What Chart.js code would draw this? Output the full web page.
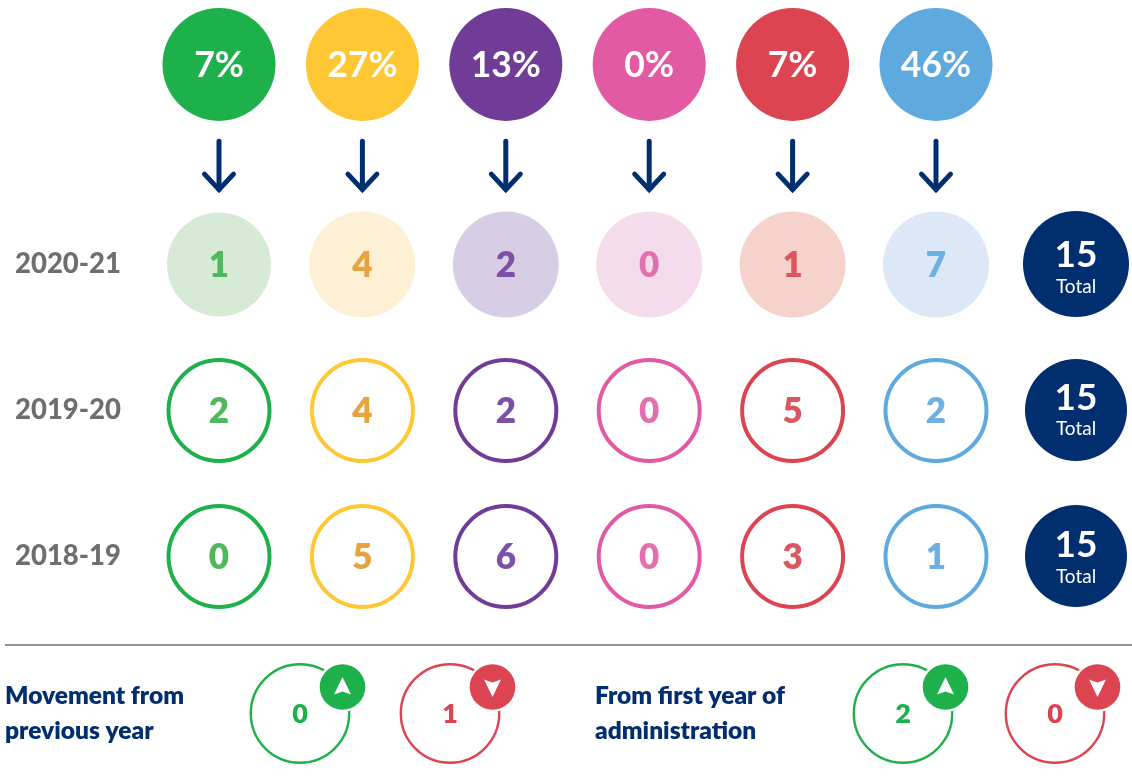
<!DOCTYPE html>
<html><head><meta charset="utf-8">
<script src="https://cdn.jsdelivr.net/npm/chart.js@4/dist/chart.umd.min.js"></script>
<style>
html,body{margin:0;padding:0;background:#fff;overflow:hidden}
#wrap{position:relative;width:1132px;height:784px}
canvas{position:absolute;left:0}
</style></head><body><div id="wrap">
<canvas id="share" width="1132" height="214" style="top:0"></canvas>
<canvas id="matrix" width="1132" height="630" style="top:0"></canvas>
<canvas id="totals" width="1132" height="629" style="top:0"></canvas>
<canvas id="movePrev" width="1132" height="144" style="top:640px"></canvas>
<canvas id="moveFirst" width="1132" height="144" style="top:640px"></canvas>
</div>
<script>
// ---- data ----
const categories = ['Category 1','Category 2','Category 3','Category 4','Category 5','Category 6'];
const years = ['2020-21','2019-20','2018-19'];
const sharePct = [7,27,13,0,7,46];
const values2020 = [1,4,2,0,1,7];
const values2019 = [2,4,2,0,5,2];
const values2018 = [0,5,6,0,3,1];
const totals = [15,15,15];
const totalLabel = 'Total';
const directions = ['Up','Down'];
const movementPrevious = [0,1];
const movementFirstYear = [2,0];
const movementPreviousTitle = ['Movement from','previous year'];
const movementFirstTitle = ['From first year of','administration'];

// ---- styles ----
const NAVY='#002e6e', GREY='#6d6e70';
const solid=['#1db04b','#ffc734','#713c98','#e15aa3','#dc4452','#5ea9de'];
const light=['#d7ead6','#fef0d5','#d7cee6','#f5dcec','#f6d2cd','#dde8f6'];
const ink=['#4fb85d','#e8a33d','#7c50a4','#e46fae','#dc5660','#6eb0e3'];
const NUM_FONT='800 35px Lato', PCT_FONT='700 35.5px Lato';
Chart.defaults.animation=false;
Chart.defaults.responsive=false;
Chart.defaults.plugins.legend.display=false;
Chart.defaults.plugins.tooltip.enabled=false;
Chart.defaults.layout.autoPadding=false;

const hiddenAxis=(labels,offset)=>({type:'category',labels,offset,display:false,grid:{display:false}});
const pts=(xs,y)=>xs.map(x=>({x,y}));
const fixAxis=w=>s=>{s.width=w;s.paddingTop=0;s.paddingBottom=0;};

function centerText(ctx,text,x,y,font,color){
  ctx.save();ctx.font=font;ctx.fillStyle=color;ctx.textAlign='center';ctx.textBaseline='middle';
  ctx.fillText(text,x,y);ctx.restore();
}
// writes each dataset's values on its own marks
const valueLabels={id:'valueLabels',afterDatasetsDraw(chart){
  chart.data.datasets.forEach((ds,i)=>{
    if(!ds.texts)return;
    chart.getDatasetMeta(i).data.forEach((el,j)=>{
      const c=typeof ds.textColor==='function'?ds.textColor(j):ds.textColor;
      centerText(chart.ctx,ds.texts[j],el.x,el.y+(ds.textDy||0),ds.textFont,c);
    });
  });
}};

// ---- share row + arrows ----
const arrowMarks={id:'arrowMarks',afterDatasetsDraw(chart){
  const ctx=chart.ctx;
  chart.getDatasetMeta(1).data.forEach(el=>{
    const x=el.x,y=el.y;
    ctx.save();ctx.strokeStyle=NAVY;ctx.lineWidth=5;ctx.lineCap='round';ctx.lineJoin='miter';
    ctx.beginPath();ctx.moveTo(x,y-23);ctx.lineTo(x,y+25);ctx.stroke();
    ctx.beginPath();ctx.moveTo(x-14.5,y+10);ctx.lineTo(x,y+25.5);ctx.lineTo(x+14.5,y+10);ctx.stroke();
    ctx.restore();
  });
}};
new Chart(document.getElementById('share'),{type:'bubble',
  data:{datasets:[
    {data:pts(categories,'share'),radius:56.5,borderWidth:0,backgroundColor:solid,clip:false,
     texts:sharePct.map(v=>v+'%'),textFont:PCT_FONT,textColor:'#fff',textDy:1},
    {data:pts(categories,'arrow'),radius:0,borderWidth:0,clip:false}
  ]},
  options:{layout:{padding:{left:219,right:196,top:14.5,bottom:0}},
    scales:{x:hiddenAxis(categories,false),y:hiddenAxis(['share','arrow'],true)}},
  plugins:[valueLabels,arrowMarks]});

// ---- year matrix ----
const yearRows=[values2020,values2019,values2018];
const yearDatasets=yearRows.map((vals,r)=>({
  data:pts(categories,years[r]),clip:false,
  radius:r===0?(c=>c.dataIndex===0?52:53):50.5, borderWidth:r===0?0:4,
  backgroundColor:r===0?light:'rgba(255,255,255,0)', borderColor:solid,
  texts:vals.map(String),textFont:NUM_FONT,textColor:j=>ink[j],textDy:1.5
}));
new Chart(document.getElementById('matrix'),{type:'bubble',
  data:{datasets:yearDatasets},
  options:{layout:{padding:{left:15,right:196,top:191.5,bottom:0.5}},
    scales:{x:hiddenAxis(categories,false),
      y:{type:'category',labels:years,offset:true,grid:{display:false},border:{display:false},
         afterFit:fixAxis(204),
         ticks:{crossAlign:'far',padding:0,color:GREY,font:{family:'Lato',weight:'900',size:27.5}}}}},
  plugins:[valueLabels]});

// ---- totals column ----
const numberDy=[-10,-13,-12], labelDy=[22,18,20];
const totalMarks={id:'totalMarks',afterDatasetsDraw(chart){
  chart.getDatasetMeta(0).data.forEach((el,j)=>{
    centerText(chart.ctx,String(totals[j]),el.x,el.y+numberDy[j]+1,'700 37px Lato','#fff');
    centerText(chart.ctx,totalLabel,el.x,el.y+labelDy[j]+1,'400 19px Lato','#fff');
  });
}};
new Chart(document.getElementById('totals'),{type:'bubble',
  data:{datasets:[{data:years.map(y=>({x:totalLabel,y})),
    clip:false,radius:c=>c.dataIndex===0?53:51,borderWidth:0,backgroundColor:NAVY}]},
  options:{layout:{padding:{left:1026,right:6,top:191,bottom:0}},
    scales:{x:hiddenAxis([totalLabel],true),y:hiddenAxis(years,true)}},
  plugins:[totalMarks]});

// ---- movement panels ----
const badges={id:'badges',afterDatasetsDraw(chart){
  const ctx=chart.ctx;
  chart.getDatasetMeta(0).data.forEach((el,j)=>{
    const x=el.x+42.5,y=el.y-26.5,up=j===0,s=up?1:-1;
    ctx.save();
    ctx.beginPath();ctx.arc(x,y,25,0,Math.PI*2);ctx.fillStyle='#fff';ctx.fill();
    ctx.beginPath();ctx.arc(x,y,22.8,0,Math.PI*2);ctx.fillStyle=solid[up?0:4];ctx.fill();
    ctx.beginPath();ctx.moveTo(x,y-10*s);ctx.lineTo(x+8.5,y+7.5*s);ctx.lineTo(x,y+4.5*s);ctx.lineTo(x-8.5,y+7.5*s);ctx.closePath();
    ctx.fillStyle='#fff';ctx.fill();
    ctx.restore();
  });
}};
const ruleLine={id:'ruleLine',beforeDraw(chart){
  const ctx=chart.ctx;ctx.save();ctx.fillStyle='#939393';ctx.fillRect(5,4,chart.width-5,2);ctx.restore();
}};
function movementChart(id,vals,title,padLeft,axisW,padRight,extra){
  const rowName=title.join(' ');
  new Chart(document.getElementById(id),{type:'bubble',
    data:{datasets:[{clip:false,radius:49.2,borderWidth:2.4,
      data:directions.map(d=>({x:d,y:rowName})),
      backgroundColor:'rgba(255,255,255,0)',borderColor:[solid[0],solid[4]],
      texts:vals.map(String),textFont:'800 27px Lato',textColor:j=>solid[j===0?0:4],textDy:1}]},
    options:{layout:{padding:{left:padLeft,right:padRight,top:23.5,bottom:20.5}},
      scales:{x:hiddenAxis(directions,false),
        y:{type:'category',labels:[rowName],offset:true,grid:{display:false},border:{display:false},
           afterFit:fixAxis(axisW),
           ticks:{crossAlign:'far',padding:0,color:NAVY,font:{family:'Lato',weight:'800',size:24.5,lineHeight:1.42},
             callback:()=>title}}}},
    plugins:[valueLabels,badges].concat(extra||[])});
}
movementChart('movePrev',movementPrevious,movementPreviousTitle,5,295,682,[ruleLine]);
movementChart('moveFirst',movementFirstYear,movementFirstTitle,595,308,77);
</script></body></html>
